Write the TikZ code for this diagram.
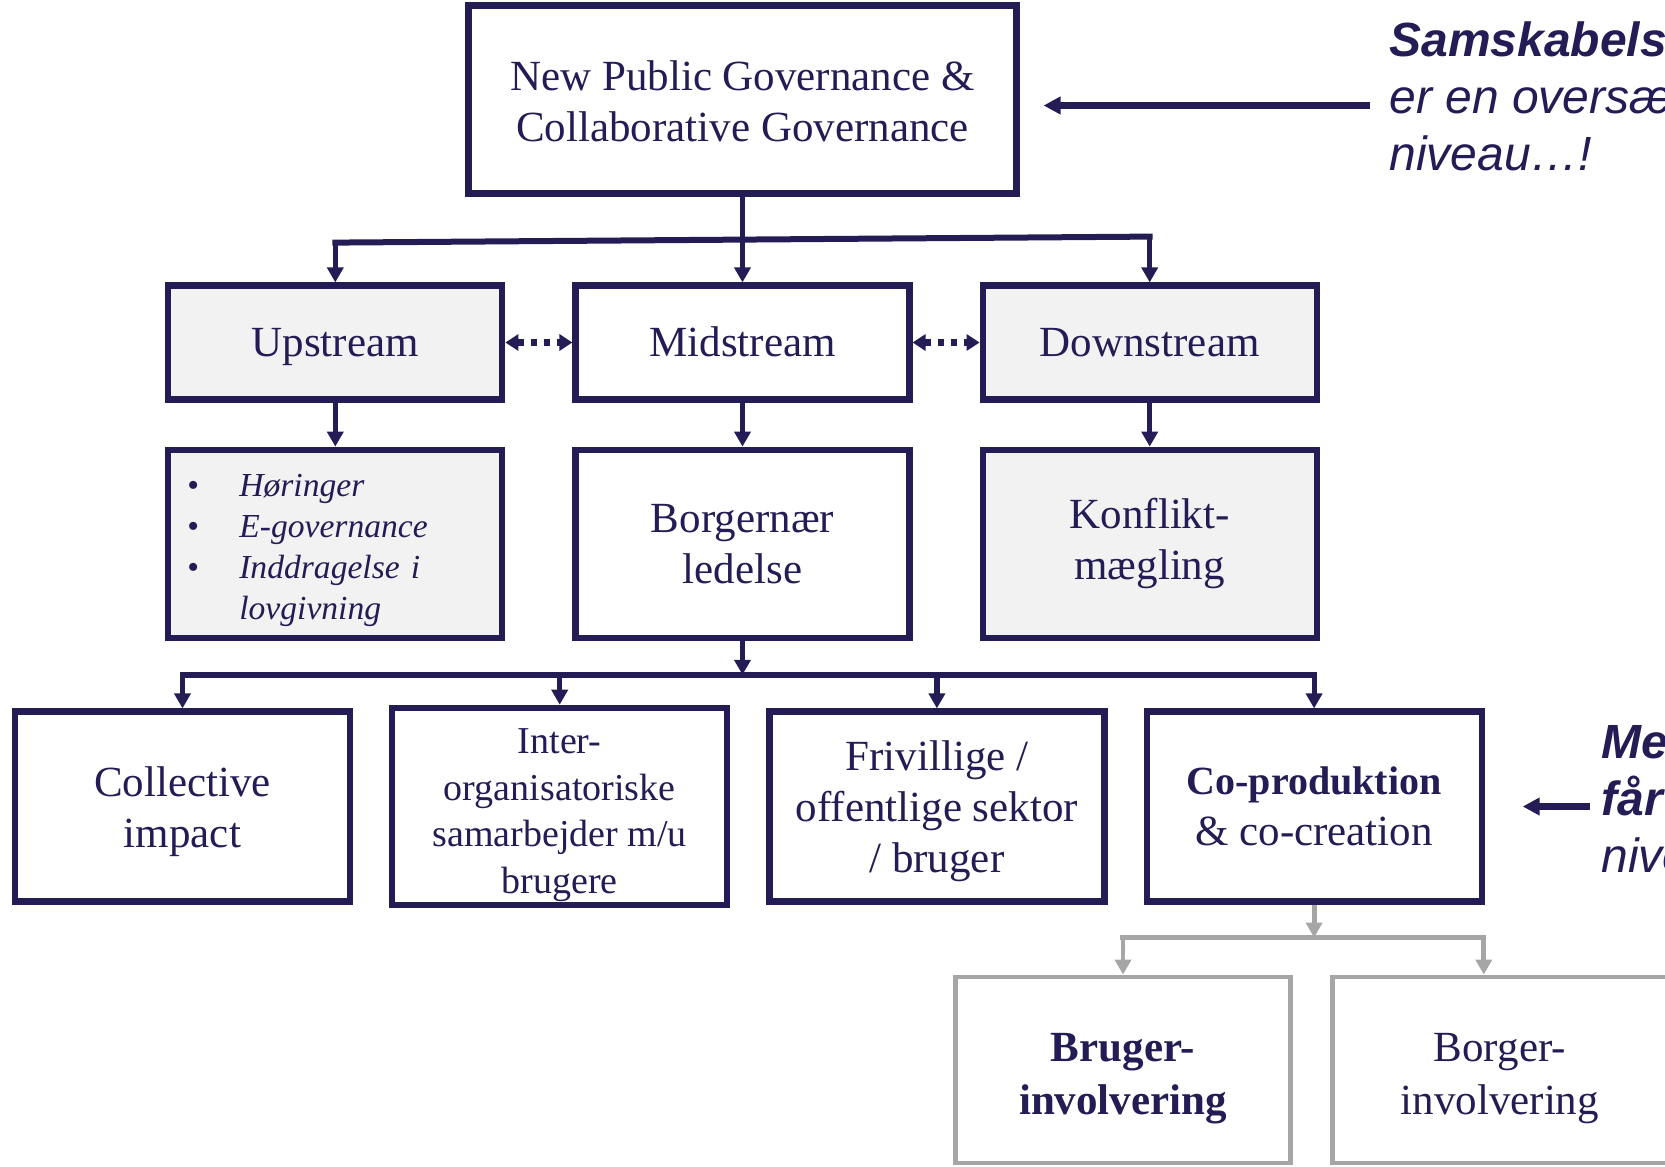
\documentclass[tikz,border=0pt]{standalone}
\usepackage{fontspec}
\setmainfont{Liberation Serif}
\newfontfamily\notefont{Liberation Sans}
\usetikzlibrary{positioning,arrows.meta}
\definecolor{navy}{RGB}{35,28,85}
\definecolor{boxgrey}{RGB}{242,242,242}
\definecolor{linkgrey}{RGB}{166,166,166}

\tikzset{
  box/.style={draw=navy, line width=3.1pt, text=navy, align=center,
    font=\fontsize{21.5}{25.5}\selectfont, inner sep=2pt},
  stream/.style={box, minimum width=167pt, minimum height=57pt,
    text height=15pt, text depth=1pt},
  tier/.style={box, minimum width=167pt, minimum height=94pt},
  form/.style={box, minimum width=167.5pt, minimum height=95pt},
  subbox/.style={box, draw=linkgrey, line width=2.4pt, minimum width=167.5pt, minimum height=93pt},
  greyfill/.style={fill=boxgrey},
  link/.style={navy, line width=2.6pt, -{Triangle[length=7.5pt,width=8pt]}},
  forkline/.style={navy, line width=3pt, line cap=rect},
  glink/.style={linkgrey, line width=2.4pt, -{Triangle[length=7.5pt,width=8pt]}},
  gforkline/.style={linkgrey, line width=2.6pt, line cap=rect},
  dotlink/.style={navy, line width=3.2pt, dash pattern=on 3pt off 3.5pt,
    {Triangle[length=6.5pt,width=8pt]}-{Triangle[length=6.5pt,width=8pt]}},
  sidearrow/.style={navy, line width=3.3pt, -{Triangle[length=8.5pt,width=8.5pt]}},
  note/.style={text=navy, align=left, inner sep=0pt,
    font=\notefont\fontsize{24}{28.5}\selectfont\itshape}
}

\begin{document}
\begin{tikzpicture}[x=0.5pt, y=-0.5pt]
  \useasboundingbox (0,0) rectangle (1665,1167);
  \clip (0,0) rectangle (1665,1167);

  % top box
  \node[box, minimum width=274pt, minimum height=94pt] (npg) at (742.5,99.5)
    {\rule{0pt}{17pt}New Public Governance \&\\ Collaborative Governance};

  % streams
  \node[stream] (mid) at (742.5,342.5) {Midstream};
  \node[stream, greyfill, left=33.5pt of mid] (up) {Upstream};
  \node[stream, greyfill, right=33.5pt of mid] (down) {Downstream};

  \node[tier, greyfill, below=22pt of up, align=left, text width=148pt, inner xsep=9pt,
    font=\fontsize{16.8}{20.4}\selectfont] (uplist)
    {\rule{0pt}{18pt}\makebox[26pt][l]{\textbullet}\textit{Høringer}\\
     \makebox[26pt][l]{\textbullet}\textit{E-governance}\\
     \makebox[26pt][l]{\textbullet}\textit{Inddragelse i}\\
     \hspace*{26pt}\textit{lovgivning}};
  \node[tier, below=22pt of mid] (borg) {Borgernær\\ ledelse};
  \node[tier, greyfill, below=22pt of down] (konf) {Konflikt-\\ mægling};

  % forms of collaboration
  \node[form] (coll) at (182.5,806.5) {\rule{0pt}{20pt}Collective\\ impact};
  \node[form, right=18pt of coll, font=\fontsize{19}{23.2}\selectfont] (inter)
    {\rule{0pt}{21pt}Inter-\\ organisatoriske\\ samarbejder m/u\\ brugere};
  \node[form, right=18pt of inter] (friv) {\rule{0pt}{20pt}Frivillige /\\ offentlige sektor\\ / bruger};
  \node[form, right=18pt of friv] (co)
    {{\fontsize{20}{25.5}\selectfont\bfseries Co-produktion}\\ \& co-creation};

  \node[subbox, font=\fontsize{21.5}{26.5}\selectfont] (bruger) at (1123,1070)
    {\rule{0pt}{23pt}\textbf{Bruger-}\\ \textbf{involvering}};
  \node[subbox, right=18.5pt of bruger, font=\fontsize{21.5}{26.5}\selectfont] (borger)
    {\rule{0pt}{23pt}Borger-\\ involvering};

  % connectors
  \coordinate[below=21.5pt of npg] (fork1);
  \path (up.north |- fork1) ++(0,3) coordinate (forkL);
  \path (down.north |- fork1) ++(0,-3) coordinate (forkR);
  \draw[link] (npg) -- (mid);
  \draw[forkline] (forkL) -- (forkR);
  \draw[link] (forkL) -- (up);
  \draw[link] (forkR) -- (down);
  \draw[dotlink] (up) -- (mid);
  \draw[dotlink] (mid) -- (down);
  \foreach \a/\b in {up/uplist, mid/borg, down/konf} \draw[link] (\a) -- (\b);

  \coordinate[below=17pt of borg] (fork2);
  \draw[link] (borg) -- (fork2);
  \draw[forkline] (coll.north |- fork2) -- (co.north |- fork2);
  \foreach \n in {coll, inter, friv, co} \draw[link] (\n.north |- fork2) -- (\n);

  \coordinate[below=16.5pt of co] (fork3);
  \coordinate (gright) at ([xshift=-8pt]borger.north);
  \draw[glink] (co) -- (fork3);
  \draw[gforkline] (bruger.north |- fork3) -- (gright |- fork3);
  \draw[glink] (bruger.north |- fork3) -- (bruger);
  \draw[glink] (gright |- fork3) -- (gright);

  % side notes
  \node[note, anchor=north west] (samskab) at (1389,21)
    {\textbf{Samskabels}\\ er en oversæ\\ niveau…!};
  \coordinate (npgin) at ([yshift=-3pt]npg.east);
  \draw[sidearrow, shorten <=9.5pt, shorten >=12pt] (samskab.west |- npgin) -- (npgin);
  \node[note, anchor=north west] (medarb) at (1601,725) {\textbf{Me}\\ \textbf{får}\\ nive};
  \draw[sidearrow, shorten <=5.5pt, shorten >=19pt] (medarb.west |- co.east) -- (co.east);
\end{tikzpicture}
\end{document}
